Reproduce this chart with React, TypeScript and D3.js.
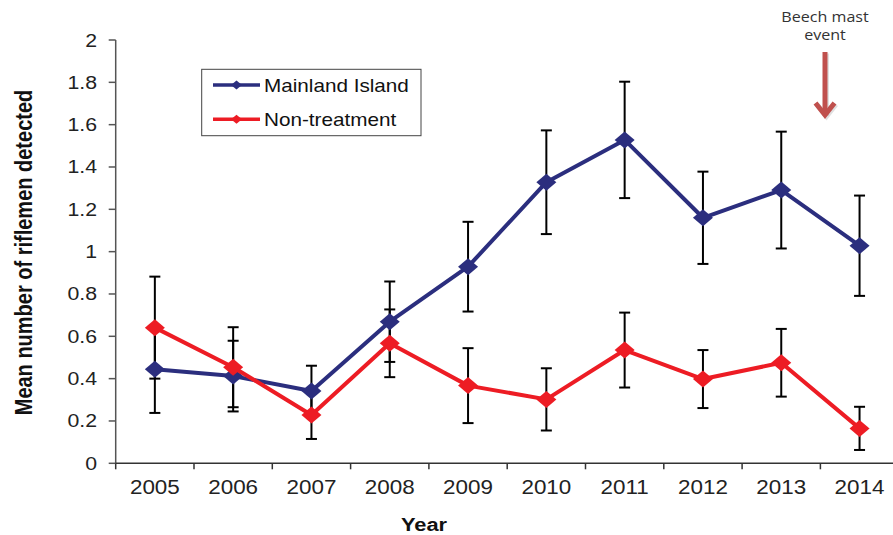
import React from "react";
import * as d3 from "d3";

const years = ["2005", "2006", "2007", "2008", "2009", "2010", "2011", "2012", "2013", "2014"];
const mainlandMean = [0.444, 0.412, 0.342, 0.669, 0.929, 1.328, 1.528, 1.16, 1.291, 1.028];
const mainlandErr = [0.206, 0.167, 0.119, 0.19, 0.212, 0.245, 0.275, 0.218, 0.276, 0.237];
const nonTreatMean = [0.641, 0.454, 0.228, 0.567, 0.367, 0.302, 0.535, 0.398, 0.475, 0.165];
const nonTreatErr = [0.241, 0.189, 0.113, 0.16, 0.177, 0.147, 0.177, 0.137, 0.16, 0.102];
const yTicks = [0, 0.2, 0.4, 0.6, 0.8, 1, 1.2, 1.4, 1.6, 1.8, 2];
const seriesNames = ["Mainland Island", "Non-treatment"];
const seriesColors = ["#2B2E7E", "#ED1C24"];

const W = 893;
const H = 535;
const SX = 1.15; // horizontal text stretch of the reference
const FONT = "'Liberation Sans', Arial, sans-serif";

export default function App() {
  const x = d3.scaleBand<string>().domain(years).range([115.7, 898.7]).padding(0);
  const y = d3.scaleLinear().domain([0, 2]).range([463.3, 40]);
  const cx = (yr: string) => (x(yr) as number) + x.bandwidth() / 2;

  const series = [
    { name: seriesNames[0], color: seriesColors[0], mean: mainlandMean, err: mainlandErr },
    { name: seriesNames[1], color: seriesColors[1], mean: nonTreatMean, err: nonTreatErr },
  ];

  const line = d3
    .line<number>()
    .x((_, i) => cx(years[i]))
    .y((d) => y(d));

  const diamond = (px: number, py: number, hw: number, hh: number) =>
    `M${px},${py - hh}L${px + hw},${py}L${px},${py + hh}L${px - hw},${py}Z`;

  const x0 = x.range()[0];
  const boundaries = years.map((yr) => x(yr) as number).concat([x.range()[1]]);

  const sText = (tx: number, ty: number) => `translate(${tx},${ty}) scale(${SX},1)`;

  return (
    <svg
      width={W}
      height={H}
      style={{ position: "fixed", left: 0, top: 0, background: "#fff" }}
      fontFamily={FONT}
    >
      <rect x={0} y={0} width={W} height={H} fill="#fff" />

      {/* y axis */}
      <line x1={x0} x2={x0} y1={y(2)} y2={y(0)} stroke="#555" strokeWidth={1.5} />
      {yTicks.map((t) => (
        <g key={"yt" + t}>
          <line x1={x0 - 7} x2={x0} y1={y(t)} y2={y(t)} stroke="#555" strokeWidth={1.5} />
          <text
            transform={sText(97, y(t) + 6.5)}
            textAnchor="end"
            fontSize={18.5}
            fill="#222"
          >
            {String(+t.toFixed(1))}
          </text>
        </g>
      ))}

      {/* x axis */}
      <line x1={x0} x2={W} y1={y(0)} y2={y(0)} stroke="#333" strokeWidth={1.5} />
      {boundaries.map((b, i) => (
        <line key={"xt" + i} x1={b} x2={b} y1={y(0)} y2={y(0) + 6} stroke="#333" strokeWidth={1.5} />
      ))}
      {years.map((yr) => (
        <text key={"xl" + yr} transform={sText(cx(yr), 493.5)} textAnchor="middle" fontSize={19.5} fill="#222">
          {yr}
        </text>
      ))}

      {/* axis titles */}
      <text transform={sText(424, 531)} textAnchor="middle" fontSize={19} fontWeight="bold" fill="#111">
        Year
      </text>
      <text
        transform={`translate(32,252.5) scale(${SX},1) rotate(-90)`}
        textAnchor="middle"
        fontSize={20}
        fontWeight="bold"
        fill="#111"
      >
        Mean number of riflemen detected
      </text>

      {/* error bars */}
      {series.map((s) =>
        s.mean.map((m, i) => {
          const px = cx(years[i]);
          const top = y(m + s.err[i]);
          const bot = y(m - s.err[i]);
          return (
            <g key={s.name + "e" + i} stroke="#000" strokeWidth={2}>
              <line x1={px} x2={px} y1={top} y2={bot} />
              <line x1={px - 5.5} x2={px + 5.5} y1={top} y2={top} />
              <line x1={px - 5.5} x2={px + 5.5} y1={bot} y2={bot} />
            </g>
          );
        })
      )}

      {/* series lines and markers */}
      {series.map((s) => (
        <g key={s.name}>
          <path d={line(s.mean) || ""} fill="none" stroke={s.color} strokeWidth={4} strokeLinejoin="round" />
          {s.mean.map((m, i) => (
            <path key={i} d={diamond(cx(years[i]), y(m), 10, 8.5)} fill={s.color} />
          ))}
        </g>
      ))}

      {/* legend */}
      <rect x={201.7} y={69.3} width={219.3} height={66.4} fill="#fff" stroke="#444" strokeWidth={1} />
      {series.map((s, i) => {
        const ly = 85 + i * 34.3;
        return (
          <g key={"lg" + i}>
            <line x1={213} x2={260} y1={ly} y2={ly} stroke={s.color} strokeWidth={3.5} />
            <path d={diamond(236.5, ly, 5.5, 4.5)} fill={s.color} />
            <text transform={sText(264, ly + 6.5)} fontSize={18} fill="#111">
              {s.name}
            </text>
          </g>
        );
      })}

      {/* annotation */}
      <text transform={sText(825, 22)} textAnchor="middle" fontSize={14} fontFamily="'Open Sans', sans-serif" fill="#333">
        Beech mast
      </text>
      <text transform={sText(825, 40)} textAnchor="middle" fontSize={14} fontFamily="'Open Sans', sans-serif" fill="#333">
        event
      </text>
      <g stroke="#000" strokeOpacity={0.12} strokeWidth={5} fill="none" transform="translate(1.5,1.5)">
        <line x1={825} x2={825} y1={52} y2={114} />
        <path d="M815.5,103 L825,115 L834.5,103" />
      </g>
      <g stroke="#C0504D" strokeWidth={5} fill="none">
        <line x1={825} x2={825} y1={52} y2={114} />
        <path d="M815.5,103 L825,115 L834.5,103" strokeLinejoin="miter" />
      </g>
    </svg>
  );
}
